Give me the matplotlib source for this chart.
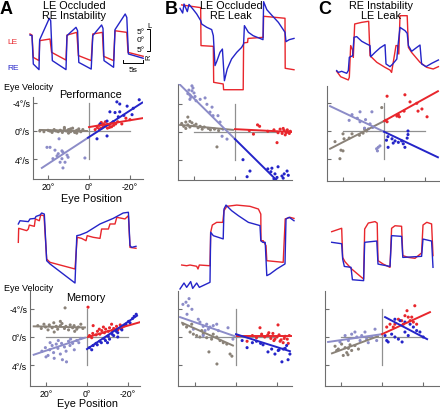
import matplotlib
matplotlib.use("Agg")
import matplotlib.pyplot as plt

plt.rcParams['font.family'] = ['Liberation Sans', 'DejaVu Sans']

W, H = 440, 410
RED = "#e8262c"
BLUE = "#2424c8"
LAV = "#8c8cc8"
GRAY = "#8a8278"
REF = "#909090"
SPINE = "#6e6e6e"

# ---- eye traces: time (s) and eye position (deg), LE red, RE blue ----
a_top_re_t = [0, 0.5, 0.83, 2.25, 2.42, 4.83, 5.17, 5.58, 9.0, 9.25, 11.5, 11.9, 12.2, 15.3, 15.7,
              17.9, 18.25, 18.5, 20.9, 21.25, 23.8, 24.2, 24.6, 28.3]
a_top_re_d = [3.3, 3.0, -12.8, -15.9, 0.7, 12.6, 11.3, -10.9, -15.9, 3.0, 7.6, 5.7, -11.9, -15.6, 3.0,
              8.9, 7.0, -10.9, -14.6, 6.3, 15.0, 13.1, -7.2, -9.6]
a_top_le_t = [0, 0.5, 0.83, 2.25, 2.42, 5.0, 5.4, 9.0, 9.25, 11.7, 12.1, 15.3, 15.7, 18.1, 18.4,
              20.9, 21.25, 24.2, 24.5, 28.3]
a_top_le_d = [3.9, 3.3, -9.1, -10.9, 0.2, 1.1, -6.3, -10.6, 3.3, 4.8, -8.1, -10.9, 3.9, 4.8, -8.5,
              -10.9, 5.7, 4.8, -6.3, -8.5]

b_top_re_t = [0, 0.67, 1.0, 1.83, 2.25, 3.33, 4.17, 5.17, 5.42, 6.67, 7.92, 8.33, 8.75, 9.17, 10.0,
              10.6, 11.1, 11.8, 12.9, 14.2, 15.4, 15.9, 16.1, 17.1, 18.3, 20.0, 20.75, 20.9, 21.7,
              22.9, 24.6, 26.25, 26.5, 27.3, 28.5]
b_top_re_d = [19.8, 17.2, 22.2, 18.0, 22.0, 19.1, 16.7, 13.0, 11.1, 9.3, 8.0, 4.6, -12.0, -9.8, -4.6,
              -2.8, -20.4, -13.9, -8.3, -4.6, -1.9, 0.0, 10.2, 6.5, 4.6, 3.1, 2.4, 23.5, 19.1,
              16.1, 12.0, 6.5, 1.3, 2.4, 3.1]
b_top_le_t = [0.42, 5.17, 5.25, 8.33, 8.42, 10.8, 10.9, 15.8, 15.9, 16.9, 17.0, 20.8, 20.9, 26.25,
              26.3, 28.5]
b_top_le_d = [21.7, 20.2, -0.9, -1.3, -21.3, -22.2, -25.4, -25.4, 0.6, 0.9, 3.1, 3.7, 15.4, 14.3,
              -13.5, -14.3]

c_top_re_t = [0.17, 0.58, 1.42, 2.67, 3.08, 3.33, 4.17, 4.5, 5.17, 6.42, 7.67, 8.5, 8.67, 9.75, 11.0,
              12.25, 12.5, 13.5, 14.2, 15.2, 15.5, 16.0, 17.25, 17.8, 18.1, 18.9, 20.2, 21.0, 21.4,
              22.5, 23.9, 25.6]
c_top_re_d = [-12.0, -13.0, -12.4, -13.5, -12.0, -4.6, -3.7, 6.5, 6.9, 4.3, 2.8, 1.9, -4.3, -1.9, 0.6,
              2.4, -8.3, -9.8, -8.3, -5.6, 1.9, 12.0, 10.2, 8.7, 1.9, -1.3, 0.9, 2.2, -8.3,
              -9.8, -8.0, -6.1]
c_top_le_t = [0.17, 1.17, 3.08, 3.33, 3.67, 4.17, 4.33, 4.67, 6.42, 8.17, 8.5, 10.2, 12.25, 13.5, 13.9,
              15.0, 15.4, 15.7, 16.0, 17.8, 18.1, 18.9, 21.0, 22.7, 24.3, 25.6]
c_top_le_d = [-12.4, -15.4, -17.2, -15.7, 1.9, -0.6, -4.6, 13.9, 14.8, 15.4, -3.7, -7.4, -10.2, -11.7,
              -13.0, 1.9, 1.9, -2.8, 18.5, 18.5, 0.9, -1.9, -7.4, -10.2, -11.1, -9.8]

a_bot_re_t = [0.08, 0.5, 2.58, 3.0, 4.25, 4.5, 5.5, 5.92, 6.58, 7.17, 8.0, 11.3, 14.25, 14.7, 15.5,
              17.2, 20.5, 23.8, 26.3, 27.6, 28.0, 28.4, 29.5]
a_bot_re_d = [13.9, 15.7, 15.2, 16.7, 17.0, 18.1, 18.9, 20.0, 19.4, -6.5, -8.3, -13.9, -18.9, 7.4, 7.8,
              9.3, 13.9, 17.0, 20.0, 20.4, 1.9, 0.9, 1.5]
a_bot_le_t = [0.08, 0.17, 2.17, 2.58, 2.83, 4.08, 4.33, 5.33, 5.67, 6.5, 7.17, 8.0, 14.25, 14.8, 15.9,
              17.0, 17.3, 18.8, 20.5, 20.9, 22.6, 23.0, 24.25, 24.7, 26.75, 27.6, 28.0, 29.5]
a_bot_le_d = [3.7, 11.5, 10.2, 11.1, 13.3, 12.6, 16.7, 15.7, 18.9, 18.5, -5.6, -7.4, -11.1, 6.5, 5.9,
              4.6, 7.4, 6.5, 5.9, 11.1, 11.1, 13.9, 13.9, 17.6, 16.7, 18.5, 0.9, 0.4]

b_bot_re_t = [0, 1.0, 1.67, 2.67, 3.17, 4.17, 4.83, 7.5, 7.67, 8.33, 10.8, 11.0, 11.5, 12.9, 14.6, 17.1,
              20.0, 20.2, 20.7, 21.3, 21.7, 22.5, 24.2, 26.25, 26.5, 27.3, 28.5]
b_bot_re_d = [-22.2, -18.9, -21.3, -18.1, -21.9, -18.9, -21.3, -18.5, 9.3, 7.4, 5.6, 22.2, 24.4, 21.3,
              18.5, 14.8, 13.0, 4.6, 3.7, 3.7, -14.8, -13.9, -11.1, -8.3, 16.7, 17.6, 15.7]
b_bot_le_t = [0.42, 1.67, 2.5, 4.17, 4.5, 4.83, 7.5, 7.67, 8.08, 9.17, 10.7, 11.0, 11.7, 14.2, 17.5,
              19.6, 20.2, 20.25, 20.8, 21.25, 21.5, 21.7, 25.8, 26.3, 27.5, 28.5]
b_bot_le_d = [-8.9, -9.3, -8.9, -9.6, -11.1, -8.9, -9.3, 9.3, 13.3, 14.8, 14.8, 21.3, 23.7, 24.4, 23.7,
              22.2, 19.4, 4.6, 4.6, 2.8, 1.9, -6.5, -7.4, 16.7, 17.6, 17.0]

c_bot_re_t = [-0.08, 2.42, 2.67, 3.08, 4.75, 5.1, 7.9, 8.17, 11.2, 11.5, 14.5, 14.9, 17.4, 17.7, 22.4,
              22.75, 24.9, 25.25]
c_bot_re_d = [6.5, 5.7, -2.8, -6.9, -7.4, -14.3, -14.8, 6.5, 7.2, -5.6, -6.9, 10.2, 9.8, -1.9, -1.3,
              8.3, 7.2, -7.4]
c_bot_le_t = [-0.08, 2.42, 2.67, 3.25, 4.9, 7.4, 7.9, 8.17, 9.08, 10.75, 11.3, 11.5, 12.8, 14.5, 14.9,
              15.75, 17.4, 17.7, 19.1, 20.75, 22.4, 22.75, 23.7, 24.9, 25.25]
c_bot_le_d = [12.4, 14.3, -1.9, -4.3, -8.3, -13.0, -13.9, 13.9, 17.2, 18.0, 17.2, -3.7, -5.6, -7.4, 14.3,
              15.7, 15.4, -0.9, -1.9, -2.4, 0.6, 16.1, 17.6, 16.7, -0.9]

# ---- eye velocity (deg/s) vs eye position (deg) ----
# A, performance
a_perf_gray_x = [24, 22, 20, 19, 18, 17, 16, 15, 14, 13, 12, 11, 10, 9, 8, 7, 6, 5, 4, 3, 12, 10, 9, 6, 5]
a_perf_gray_y = [0.0, 0.1, -0.1, 0.0, 0.2, -0.2, 0.0, 0.1, -0.1, 0.2, -0.3, 0.0, -0.2, 0.1, -0.4, 0.2,
                 -0.1, 0.0, 0.1, -0.2, -0.5, 0.3, -0.3, 0.3, -0.3]
a_perf_lav_x = [14.6, 19, 20.5, 16.6, 13.2, 12.7, 15, 10.7, 10.2, 17.6, 13.2, 11.7, 14.1, 12.7, 2, 15.6]
a_perf_lav_y = [1.1, 2.3, 2.3, 2.7, 2.8, 3.0, 3.2, 3.4, 3.7, 3.9, 3.9, 4.4, 4.4, 5.2, 3.8, 3.5]
a_perf_red_x = [-4, -5, -6, -7, -8, -9, -10, -11, -12, -13, -6, -8, -10, -14, -16, -18, -20, -5, -7, -9,
                -3, -11]
a_perf_red_y = [-0.5, -0.8, -0.4, -1.0, -0.7, -0.9, -0.5, -1.1, -0.8, -1.0, -1.2, -1.3, -0.9, -1.3, -1.0,
                -1.8, -1.6, -0.3, -0.6, -0.4, -0.2, -0.6]
a_perf_blue_x = [-13.6, -15, -18.6, -21.6, -24.5, -10.2, -12.7, -15, -17, -14.3, -11.8, -8.8, -5.4, -3.9,
                 -8.8, -21]
a_perf_blue_y = [-4.1, -3.8, -3.5, -3.2, -4.4, -2.7, -2.6, -2.7, -2.2, -2.0, -1.3, -1.4, -1.0, 1.1, 0.7,
                 -2.3]
a_perf_fits = {GRAY: ([24, 1], [-0.15, 0.0]), LAV: ([23, 0.5], [5.2, 0.95]),
               BLUE: ([0.5, -26], [0.95, -4.0]), RED: ([0, -26], [-0.55, -1.8])}

# A, memory
a_mem_gray_x = [24, 22.3, 21, 20.2, 19, 18.4, 17, 16.2, 15, 14.3, 13, 12.2, 11, 10.3, 9, 8.2, 7, 6.3, 5,
                4.2, 3, 2, 10.7, 16, 6, 13]
a_mem_gray_y = [-1.6, -1.2, -1.8, -1.4, -1.0, -1.7, -1.3, -2.0, -1.5, -1.1, -1.6, -1.9, -1.2, -1.5, -1.0,
                -1.7, -1.3, -1.6, -1.1, -1.4, -1.8, -1.2, -4.1, -0.7, -0.8, -2.2]
a_mem_lav_x = [22, 20.3, 19, 18.2, 17, 16.3, 15, 14.2, 13, 12.4, 11, 10.2, 9, 8.3, 7, 6.2, 5, 4, 16, 12,
               10, 14, 20, 8, 18, 3]
a_mem_lav_y = [2.0, 1.5, 2.6, 1.8, 1.2, 2.2, 1.0, 1.6, 2.4, 0.9, 1.4, 2.0, 0.6, 1.2, 0.9, 1.8, 0.5, 0.8,
               3.0, 3.2, 3.5, 0.5, 2.8, 0.3, 0.8, 0.2]
a_mem_red_x = [-1.2, -2.3, -2.8, -4.4, -5.1, -6.3, -7.2, -8.5, -9.1, -10.4, -11, -12.3, -13, -14.4, -15,
               -16.2, -17, -18.3, -12, -8, -0.5, -3, -6]
a_mem_red_y = [-0.2, 0.1, -0.5, -0.3, -0.8, -0.4, -0.9, -0.6, -1.1, -0.8, -1.3, -0.9, -1.2, -1.5, -1.0,
               -1.7, -1.3, -1.6, -1.8, -1.4, -4.2, -1.6, -1.1]
a_mem_blue_x = [-1.2, -2.3, -3, -4.4, -5, -6.2, -7, -8.3, -9, -10.4, -11, -12.2, -13, -14.3, -15, -16.4,
                -17, -18.2, -19, -20.3, -21, -22.2, -23, -24, -10, -15]
a_mem_blue_y = [1.5, 1.8, 1.2, 0.9, 1.1, 0.6, 0.8, 0.2, 0.5, -0.1, 0.3, -0.4, -0.2, -0.8, -0.6, -1.2,
                -1.0, -1.6, -1.8, -2.2, -2.0, -2.6, -2.9, -3.2, 0.8, 0.0]
a_mem_fits = {GRAY: ([26, 1], [-1.5, -1.35]), LAV: ([26, 1], [2.5, 0.1]),
              RED: ([-0.5, -26], [0.0, -2.1]), BLUE: ([0, -24.4], [1.7, -3.0])}

# B, performance
b_perf_lav_x = [20, 21, 22, 20.5, 21.5, 22.5, 19.5, 23, 21, 19, 22, 17, 14.6, 13.7, 11.2, 12.2, 10.7, 8.3,
                7.3, 5.9, 6.3, 3.9]
b_perf_lav_y = [-5.5, -5.8, -5.2, -6.2, -4.9, -5.9, -5.0, -5.4, -6.5, -4.4, -4.6, -4.6, -4.8, -3.9, -3.5,
                -2.8, -2.3, -2.3, -1.4, -0.4, 0.6, 1.0]
b_perf_gray_x = [26, 25, 24, 23, 22, 21, 20, 19, 18, 17, 16, 15, 13, 12, 24, 22, 23, 10, 8, 8.8]
b_perf_gray_y = [-1.2, -0.8, -1.4, -1.0, -0.7, -1.3, -0.9, -1.1, -0.6, -0.8, -0.4, -0.7, -0.5, -0.3, -0.5,
                 -1.5, -2.1, -0.4, -0.2, 2.1]
b_perf_red_x = [-7, -9, -11, -12, -16, -19, -21, -22, -23, -24, -25, -25.5, -26, -26.5, -27, -24.5, -23.5,
                -20.5]
b_perf_red_y = [-0.2, 0.3, -1.0, -0.8, -0.1, -0.3, 0.1, -0.4, 0.2, -0.2, 0.1, -0.3, 0.0, 0.2, -0.1, 0.4,
                -0.5, 1.5]
b_perf_blue_x = [-3.9, -7.3, -5.9, -16, -18, -21, -25.4, -19.5, -22.9, -24, -23.5, -20.5, -19, -17.5, -26]
b_perf_blue_y = [3.9, 5.5, 6.3, 5.2, 5.1, 4.9, 5.5, 5.9, 6.2, 5.9, 6.5, 6.4, 6.6, 5.6, 6.1]
b_perf_fits = {GRAY: ([26.8, 1], [-1.0, -0.3]), LAV: ([27.3, 0], [-6.8, 1.0]),
               BLUE: ([0, -20.3], [1.0, 6.8]), RED: ([0, -27.8], [-0.4, 0.0])}

# B, memory
b_mem_lav_x = [25.9, 24.4, 22.9, 21.5, 23.9, 17.6, 16, 14.3, 12.7, 11.1, 9.4, 13.5, 15.1, 3.9, 1.5, 16,
               18.4, 20.8, 23.3, 8.6]
b_mem_lav_y = [-4.6, -4.9, -5.4, -3.9, -3.2, -2.1, -1.5, -1.8, -1.4, -1.6, -1.8, -1.1, -0.9, -1.3, 0.3,
               -0.2, -2.5, -1.1, -4.4, -0.9]
b_mem_gray_x = [22.4, 20.8, 19.2, 17.6, 16, 14.3, 11.9, 9.4, 7.8, 6.2, 4.5, 2.9, 9.3, 13.2, 2, 25.7, 24.1,
                21.6, 16.7, 11.1]
b_mem_gray_y = [-0.7, -0.4, -0.2, 0.0, -0.4, 0.1, 0.3, 0.0, 0.5, 0.8, 1.0, 2.4, 3.8, 2.1, 2.7, -1.8,
                -1.4, -1.8, -0.9, -0.4]
b_mem_red_x = [-5.4, -11.7, -20.5, -8, -10, -12.5, -14, -15.5, -17, -18, -19, -20, -21, -22, -23, -24,
               -25, -26, -21.5, -23.5, -18.5, -25.5, -16]
b_mem_red_y = [0.6, -1.3, -1.7, -0.2, 0.1, -0.4, 0.0, -0.3, 0.2, -0.5, 0.3, 0.0, -0.3, 0.4, 0.8, -0.1,
               0.3, -0.2, 0.6, 0.2, 0.5, 0.9, -0.6]
b_mem_blue_x = [-5.4, -13.2, -15.6, -19, -22.4, -25.4, -23.1, -24.7, -26.3, -17.4, -20.6, -3, -8, -10,
                -24, -21, -12]
b_mem_blue_y = [1.5, 1.1, 2.1, 2.4, 3.5, 3.2, 1.7, 1.2, 2.4, 1.7, 1.9, 0.5, 0.8, 0.6, 1.6, 1.8, 0.9]
b_mem_fits = {GRAY: ([26.3, 1.5], [-2.0, 1.2]), LAV: ([27.3, 0.5], [-2.8, -0.1]),
              RED: ([-0.5, -27], [-0.1, -0.1]), BLUE: ([0, -26.3], [-0.4, 2.0])}

# C, performance
c_perf_lav_x = [15.6, 11.7, 5.9, 11.7, 9.0, 6.8, 7.6, 5.5, 3.6, 2.8, 2.0, 3.2, 13.0, 17.0, 9.5]
c_perf_lav_y = [-2.3, -2.7, -2.7, -1.3, -1.6, -1.0, -0.3, -0.5, 2.5, 2.3, 2.1, 2.8, -1.8, -1.5, -0.4]
c_perf_gray_x = [23.9, 20, 19.5, 15.6, 21, 20, 21.5, 10.2, 9.5, 8.5, 1.1, 12, 17]
c_perf_gray_y = [1.5, 0.4, 1.1, 0.4, 2.7, 2.8, 3.9, 0.3, -0.3, 0.0, -3.3, 0.6, 1.0]
c_perf_red_x = [-1.5, -10.2, -12.7, -16, -18.5, -16.6, -21, -6.3, -7.5, -7, -1.5, -0.8, -9.8]
c_perf_red_y = [-4.9, -5.1, -4.1, -3.9, -3.1, -2.8, -2.0, -2.1, -2.0, -2.3, -1.3, -1.5, -2.8]
c_perf_blue_x = [-11.7, -11.7, -11.3, -2, -3.9, -4.5, -7, -8.6, -9.4, -5.4, -1.9, -10.2, -1.2]
c_perf_blue_y = [0.0, 0.5, 1.0, 2.3, 1.1, 1.7, 1.6, 1.4, 1.8, 1.4, 0.8, 2.3, 1.3]
c_perf_fits = {GRAY: ([26.3, 0], [2.5, -1.4]), LAV: ([26.3, 0], [-3.5, 0.1]),
               BLUE: ([0, -26.3], [0.1, 3.7]), RED: ([0, -26.3], [-1.4, -5.6])}

# C, memory
c_mem_gray_x = [22.9, 21.3, 19.7, 18.0, 17.2, 16.4, 14.8, 16.6, 13.2, 11.5, 15.6, 18.9, 22.1]
c_mem_gray_y = [1.3, 1.7, 1.0, 1.5, 2.2, 1.6, 1.9, 2.5, 1.2, 1.7, 1.1, 2.6, 1.9]
c_mem_lav_x = [18.0, 14.8, 12.3, 9.9, 7.5, 5.0, 3.4, 2.6, 6.7, 10.7, 20.5, 13.2, 8.3, 16.4]
c_mem_lav_y = [-0.2, -0.4, 0.0, -0.2, 0.3, 0.0, -1.1, 0.5, 0.8, 0.5, 0.7, -0.7, -0.7, 0.5]
c_mem_red_x = [-2.3, -3.9, -6.3, -8.0, -9.6, -11.2, -12.8, -12.2, -16.0, -13.7, -15.3, -16.9, -10.4,
               -5.5, -14.5]
c_mem_red_y = [-1.4, -1.8, -1.8, -2.5, -2.3, -3.0, -2.8, -3.7, -4.4, -2.3, -2.1, -1.8, -1.8, -1.4, -2.8]
c_mem_blue_x = [-1.5, -2.3, -3.0, -4.7, -6.3, -8.0, -9.8, -8.8, -11.2, -13.7, -15.3, -16.9, -12.8, -11.2,
                -18.5, -20.1, -6.3]
c_mem_blue_y = [-0.2, 0.5, 0.7, -0.4, 0.0, 0.3, 0.7, -2.3, -2.1, -1.8, -1.4, -0.9, -0.2, -0.7, -0.7,
                0.0, -2.5]
c_mem_fits = {GRAY: ([24.4, 2], [2.3, -0.1]), LAV: ([26.3, 0], [0.7, -0.4]),
              RED: ([0, -23.4], [-0.4, -3.5]), BLUE: ([-1.5, -22], [-2.8, 0.3])}

DEG_PX = 2.05   # pixels per degree of eye position
VEL_PX = 7.1    # pixels per deg/s of eye velocity
T_PX = 4.0      # pixels per second in traces
POS_PX = 1.8    # pixels per degree in traces

fig = plt.figure(figsize=(4.4, 4.1), dpi=100)


def px_axes(left, top, right, bottom):
    ax = fig.add_axes([left / W, 1 - bottom / H, (right - left) / W, (bottom - top) / H])
    ax.patch.set_alpha(0)
    return ax


def trace_panel(box, t0, zero, re_t, re_d, le_t, le_d):
    left, top, right, bottom = box
    ax = px_axes(*box)
    ax.plot(le_t, le_d, color=RED, lw=1.0)
    ax.plot(re_t, re_d, color=BLUE, lw=1.0)
    ax.set_xlim((left - t0) / T_PX, (right - t0) / T_PX)
    ax.set_ylim((zero - bottom) / POS_PX, (zero - top) / POS_PX)
    ax.axis("off")
    return ax


def scatter_panel(box, origin, groups, fits, labels=False):
    left, top, right, bottom = box
    x0, y0 = origin
    ax = px_axes(*box)
    ax.set_xlim((x0 - left) / DEG_PX, -(right - x0) / DEG_PX)
    ax.set_ylim((bottom - y0) / VEL_PX, -(y0 - top) / VEL_PX)
    ax.plot([0, 0], [-4, 4], color=REF, lw=0.9, zorder=1)
    ax.plot([20, -20], [0, 0], color=REF, lw=0.9, zorder=1)
    for color, (xs, ys) in groups.items():
        ax.scatter(xs, ys, s=5, color=color, edgecolors="none", zorder=2)
    for color, (xs, ys) in fits.items():
        ax.plot(xs, ys, color=color, lw=1.4, zorder=3)
    for side in ["top", "right"]:
        ax.spines[side].set_visible(False)
    for side in ["left", "bottom"]:
        ax.spines[side].set_color(SPINE)
        ax.spines[side].set_linewidth(0.8)
    ax.set_xticks([20, 0, -20])
    ax.set_yticks([-4, 0, 4])
    ax.tick_params(direction="in", length=3, width=0.8, color=SPINE, labelsize=6.3, pad=2)
    if labels:
        ax.set_xticklabels(["20°", "0°", "-20°"])
        ax.set_yticklabels(["-4°/s", "0°/s", "4°/s"])
    else:
        ax.set_xticklabels([])
        ax.set_yticklabels([])
    return ax


# traces
trace_panel((25, 10, 146, 80), 30, 42, a_top_re_t, a_top_re_d, a_top_le_t, a_top_le_d)
trace_panel((175, 0, 296, 95), 180, 45, b_top_re_t, b_top_re_d, b_top_le_t, b_top_le_d)
trace_panel((325, 10, 440, 90), 336, 50, c_top_re_t, c_top_re_d, c_top_le_t, c_top_le_d)
trace_panel((10, 203, 145, 292), 18, 250, a_bot_re_t, a_bot_re_d, a_bot_le_t, a_bot_le_d)
trace_panel((172, 200, 296, 292), 180, 250, b_bot_re_t, b_bot_re_d, b_bot_le_t, b_bot_le_d)
trace_panel((322, 210, 440, 292), 332, 255, c_bot_re_t, c_bot_re_d, c_bot_le_t, c_bot_le_d)

# scatter panels
scatter_panel((33, 98, 143, 180), (89, 132),
              {GRAY: (a_perf_gray_x, a_perf_gray_y), LAV: (a_perf_lav_x, a_perf_lav_y),
               RED: (a_perf_red_x, a_perf_red_y), BLUE: (a_perf_blue_x, a_perf_blue_y)},
              a_perf_fits, labels=True)
scatter_panel((30, 292, 140, 387), (87, 338),
              {GRAY: (a_mem_gray_x, a_mem_gray_y), LAV: (a_mem_lav_x, a_mem_lav_y),
               RED: (a_mem_red_x, a_mem_red_y), BLUE: (a_mem_blue_x, a_mem_blue_y)},
              a_mem_fits, labels=True)
scatter_panel((178, 85, 292, 181), (235, 133),
              {GRAY: (b_perf_gray_x, b_perf_gray_y), LAV: (b_perf_lav_x, b_perf_lav_y),
               RED: (b_perf_red_x, b_perf_red_y), BLUE: (b_perf_blue_x, b_perf_blue_y)},
              b_perf_fits)
scatter_panel((178, 292, 292, 387), (236, 338),
              {GRAY: (b_mem_gray_x, b_mem_gray_y), LAV: (b_mem_lav_x, b_mem_lav_y),
               RED: (b_mem_red_x, b_mem_red_y), BLUE: (b_mem_blue_x, b_mem_blue_y)},
              b_mem_fits)
scatter_panel((327, 87, 440, 182), (384, 132),
              {GRAY: (c_perf_gray_x, c_perf_gray_y), LAV: (c_perf_lav_x, c_perf_lav_y),
               RED: (c_perf_red_x, c_perf_red_y), BLUE: (c_perf_blue_x, c_perf_blue_y)},
              c_perf_fits)
scatter_panel((325, 292, 440, 387), (382, 338),
              {GRAY: (c_mem_gray_x, c_mem_gray_y), LAV: (c_mem_lav_x, c_mem_lav_y),
               RED: (c_mem_red_x, c_mem_red_y), BLUE: (c_mem_blue_x, c_mem_blue_y)},
              c_mem_fits)


def ftext(x, y, s, **kw):
    fig.text(x / W, 1 - y / H, s, **kw)


# panel letters and titles
for x, letter in [(0, "A"), (165, "B"), (318, "C")]:
    ftext(x, 9, letter, fontsize=13, fontweight="bold", va="center", ha="left")
ftext(74, 11, "LE Occluded\nRE Instability", fontsize=7.8, ha="center", va="center", linespacing=1.0)
ftext(231, 11, "LE Occluded\nRE Leak", fontsize=7.8, ha="center", va="center", linespacing=1.0)
ftext(381, 11, "RE Instability\nLE Leak", fontsize=7.8, ha="center", va="center", linespacing=1.0)

# trace labels and scale bars
ftext(12, 43, "LE", fontsize=6, color=RED, ha="center", va="center")
ftext(13, 68, "RE", fontsize=6, color=BLUE, ha="center", va="center")
for y, s in [(32, "5°"), (41, "0°"), (50, "5°")]:
    ftext(141, y, s, fontsize=6, ha="center", va="center")
ftext(149, 26, "L", fontsize=5.5, ha="center", va="center")
ftext(149, 57, "R", fontsize=5.5, ha="center", va="center", rotation=90)
bar = px_axes(0, 0, W, H)
bar.set_xlim(0, W)
bar.set_ylim(H, 0)
bar.axis("off")
bar.plot([123, 123, 143, 143], [61, 64, 64, 61], color="black", lw=0.7)
bar.plot([147, 150, 150, 147], [30, 30, 52, 52], color="black", lw=0.7)
ftext(133, 71, "5s", fontsize=6, ha="center", va="center")

# axis annotations for column A
ftext(4, 88, "Eye Velocity", fontsize=6.5, ha="left", va="center")
ftext(90, 95, "Performance", fontsize=7.8, ha="center", va="center")
ftext(91, 199, "Eye Position", fontsize=7.8, ha="center", va="center")
ftext(4, 289, "Eye Velocity", fontsize=6.5, ha="left", va="center")
ftext(86, 298, "Memory", fontsize=7.8, ha="center", va="center")
ftext(87, 404, "Eye Position", fontsize=7.8, ha="center", va="center")

fig.savefig("out.png", dpi=100)
